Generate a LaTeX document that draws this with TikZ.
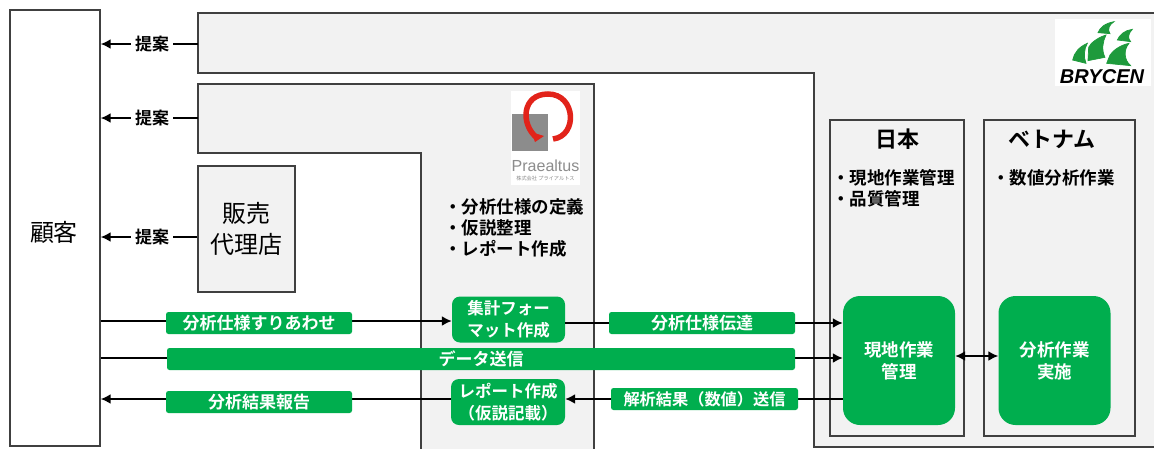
\documentclass[tikz,border=0pt]{standalone}
\usepackage{fontspec}
\setmainfont{Noto Sans CJK JP}[BoldFont={Noto Sans CJK JP Bold}]
\newfontfamily\logofont{Liberation Sans}
\usetikzlibrary{arrows.meta}
\definecolor{grn}{HTML}{00AE4E}
\definecolor{pane}{HTML}{F2F2F2}
\definecolor{edge}{HTML}{404040}
\definecolor{logored}{HTML}{E2231A}
\definecolor{logogreen}{HTML}{1E9A3C}
\definecolor{logogray}{HTML}{8C8C8C}
\tikzset{
  x=1pt,y=-1pt,
  panel/.style={draw=edge,line width=1.4pt,fill=pane},
  plainbox/.style={draw=edge,line width=1.4pt,fill=white,inner sep=0pt},
  graybox/.style={draw=edge,line width=1.4pt,fill=pane,inner sep=0pt,align=center},
  tag/.style={fill=grn,draw=none,rounded corners=2.5pt,text=white,font=\fontsize{17}{19}\selectfont\bfseries,inner sep=0pt,minimum height=22pt,align=center},
  work/.style={fill=grn,draw=none,rounded corners=8pt,text=white,font=\fontsize{16.5}{22}\selectfont\bfseries,inner sep=0pt,align=center},
  big/.style={fill=grn,draw=none,rounded corners=17pt,text=white,font=\fontsize{17.5}{22}\selectfont\bfseries,inner sep=0pt,minimum width=112pt,minimum height=129pt,align=center},
  link/.style={line width=1.8pt,black,-{Latex[length=10pt,width=10pt]}},
  plainlink/.style={line width=1.8pt,black},
  twoway/.style={line width=1.8pt,black,{Latex[length=10pt,width=10pt]}-{Latex[length=10pt,width=10pt]}},
  propose/.style={inner sep=4pt,font=\fontsize{17}{19}\selectfont\bfseries},
  notes/.style={font=\fontsize{17.5}{21}\selectfont\bfseries,align=left,anchor=north west,inner sep=0pt},
  heading/.style={font=\fontsize{22}{26}\selectfont\bfseries,inner sep=0pt},
}
\begin{document}
\begin{tikzpicture}
\useasboundingbox (0,0) rectangle (1154,448);
\fill[white] (0,0) rectangle (1154,448);

% gray panels
\draw[panel] (198,13) -- (1156,13) -- (1156,447) -- (814,447) -- (814,73) -- (198,73) -- cycle;
\draw[panel] (198,84) -- (594,84) -- (594,450) -- (421,450) -- (421,153) -- (198,153) -- cycle;
\coordinate (topband) at (198,44);
\coordinate (midband) at (198,118);

\node[plainbox,minimum width=90pt,minimum height=436pt] (cust) at (55,228) {};
\node[font=\fontsize{24}{28}\selectfont,inner sep=0pt] (custlabel) at (54,232) {顧客};
\node[graybox,minimum width=97pt,minimum height=126pt,font=\fontsize{24}{31}\selectfont] (agent) at (246.5,229) {販売\\代理店};

\node[graybox,minimum width=134pt,minimum height=316pt] (japan) at (897,278) {};
\node[graybox,minimum width=151pt,minimum height=316pt] (vietnam) at (1059.5,278) {};
\node[heading] (jpt) at (897,139) {日本};
\node[heading] (vnt) at (1052,139) {ベトナム};
\node[notes] (jpn) at (832,169) {・現地作業管理\\・品質管理};
\node[notes] (vnn) at (992,169) {・数値分析作業};
\node[notes] (prn) at (444,198) {・分析仕様の定義\\・仮説整理\\・レポート作成};

% Proposal arrows
\node[propose] (p1) at (152,44) {提案};
\node[propose] (p2) at (152,118) {提案};
\node[propose] (p3) at (152,237) {提案};
\draw[plainlink] (topband) -- (p1.east);
\draw[plainlink] (midband) -- (p2.east);
\draw[plainlink] (agent.west |- p3) -- (p3.east);
\draw[link] (p1.west) -- (cust.east |- p1);
\draw[link] (p2.west) -- (cust.east |- p2);
\draw[link] (p3.west) -- (cust.east |- p3);

% flow nodes
\node[big] (site) at (899,360.5) {現地作業\\管理};
\node[big] (work) at (1054.5,360.5) {分析作業\\実施};
\node[work,minimum width=113pt,minimum height=46pt] (fmt) at (508.5,319.5) {集計フォー\\マット作成};
\node[work,minimum width=114pt,minimum height=46pt] (rep) at (508,402) {レポート作成\\（仮説記載）};
\coordinate (dataL) at (cust.east |- 0,358);
\coordinate (fmtL) at (cust.east |- 0,321);
\coordinate (repL) at (cust.east |- 0,399);

\draw[link] (fmtL) -- (fmtL -| fmt.west);
\draw[link] (fmt.east |- 0,323) -- (site.west |- 0,323);
\draw[link] (dataL) -- (dataL -| site.west);
\draw[link] (site.west |- 0,399) -- (rep.east |- 0,399);
\draw[link] (rep.west |- 0,399) -- (repL);
\draw[twoway] (site.east |- 0,356) -- (work.west |- 0,356);

\node[tag,minimum width=186pt] (t1) at (259,323) {分析仕様すりあわせ};
\node[tag,minimum width=628pt] (t2) at (481,359) {データ送信};
\node[tag,minimum width=186pt] (t3) at (259,402) {分析結果報告};
\node[tag,minimum width=186pt] (t4) at (702,323) {分析仕様伝達};
\node[tag,minimum width=187pt,font=\fontsize{16.2}{19}\selectfont\bfseries] (t5) at (704.5,399) {解析結果（数値）送信};

% BRYCEN logo
\fill[white] (1055,19) rectangle (1151,86);
\begin{scope}[shift={(1000,0)},x=0.3333pt,y=-0.3333pt]
\filldraw[logogreen,line width=0.7pt] (342,65) .. controls (315,70) and (300,82) .. (294,98) -- (330,101) .. controls (322,90) and (326,75) .. cycle;
\filldraw[logogreen,line width=0.7pt] (262,130) .. controls (238,140) and (222,158) .. (218,180) -- (258,190) .. controls (250,170) and (252,148) .. cycle;
\filldraw[logogreen,line width=0.7pt] (318,105) .. controls (295,112) and (272,128) .. (266,142) -- (264,182) -- (315,172) .. controls (304,150) and (308,125) .. cycle;
\filldraw[logogreen,line width=0.7pt] (397,88) .. controls (375,90) and (358,105) .. (352,120) -- (392,125) .. controls (382,115) and (385,100) .. cycle;
\filldraw[logogreen,line width=0.7pt] (387,130) .. controls (362,135) and (340,150) .. (330,165) -- (320,190) -- (392,197) .. controls (372,180) and (370,150) .. cycle;
\end{scope}
\node[font=\logofont\fontsize{20}{22}\selectfont\bfseries\itshape,inner sep=0pt] (brycen) at (1102,77) {BRYCEN};

% Praealtus logo
\fill[white] (511,91) rectangle (580,185);
\fill[logogray] (512,113.5) rectangle (548,151);
\draw[logored,line width=5.5pt] (537,138) .. controls (520,124) and (522,94) .. (548,94) .. controls (576,94) and (578,136) .. (553,139);
\fill[logored] (531,132) -- (544,136) -- (535,142) -- cycle;
\node[font=\logofont\fontsize{16}{17}\selectfont,text=logogray,inner sep=0pt] (prae) at (545.5,166) {Praealtus};
\node[font=\fontsize{5.2}{6}\selectfont,text=logogray,inner sep=0pt] (praesub) at (545.5,179) {株式会社 プライアルトス};
\end{tikzpicture}
\end{document}
